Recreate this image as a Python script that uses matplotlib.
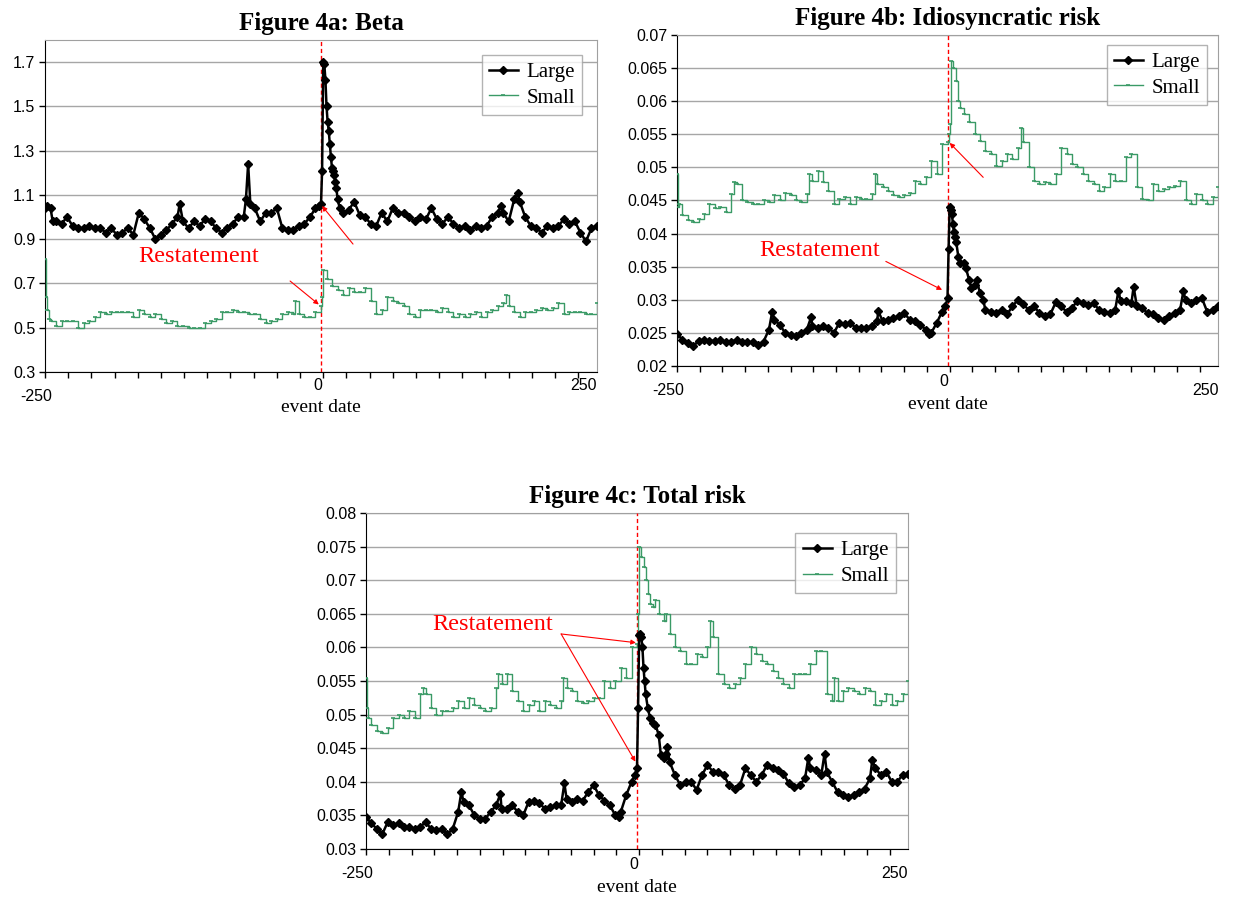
import matplotlib
matplotlib.use("Agg")
import matplotlib.pyplot as plt
import numpy as np

# ---------------- Data ----------------
# Figure 4a: Beta
beta_large_x = [-250,-248,-245,-243,-240,-235,-230,-225,-220,-215,-210,-205,-200,-195,-190,-185,-180,-175,-170,-165,-160,-155,-150,-145,-140,-135,-130,-128,-125,-120,-115,-110,-105,-100,-95,-90,-85,-80,-75,-70,-68,-66,-64,-60,-55,-50,-45,-40,-35,-30,-25,-20,-15,-10,-5,-2,0,1,2,3,4,5,6,7,8,9,10,11,12,13,14,15,17,20,25,30,35,40,45,50,55,60,65,70,75,80,85,90,95,100,105,110,115,120,125,130,135,140,145,150,155,160,163,165,170,175,178,180,185,190,195,200,205,210,215,220,225,230,235,240,245,250]
beta_large_y = [1.04,1.05,1.04,0.98,0.98,0.97,1.00,0.96,0.95,0.95,0.96,0.95,0.95,0.93,0.95,0.92,0.93,0.95,0.92,1.02,0.99,0.95,0.90,0.92,0.94,0.97,1.00,1.06,0.98,0.95,0.98,0.96,0.99,0.98,0.95,0.93,0.95,0.97,1.00,1.00,1.08,1.24,1.06,1.04,0.98,1.02,1.02,1.04,0.95,0.94,0.94,0.96,0.97,1.00,1.04,1.05,1.06,1.21,1.70,1.69,1.62,1.50,1.43,1.39,1.33,1.27,1.22,1.21,1.19,1.16,1.13,1.08,1.04,1.02,1.03,1.07,1.01,1.00,0.97,0.96,1.02,0.98,1.04,1.02,1.02,1.00,0.98,1.00,0.99,1.04,0.99,0.97,1.00,0.97,0.95,0.96,0.94,0.96,0.95,0.96,1.00,1.02,1.05,1.02,0.98,1.08,1.11,1.07,1.00,0.96,0.95,0.93,0.96,0.95,0.96,0.99,0.97,0.98,0.93,0.89,0.95,0.96]

beta_small_x = [-250,-249,-248,-246,-245,-240,-235,-230,-225,-220,-215,-210,-205,-200,-195,-190,-185,-180,-175,-170,-165,-160,-155,-150,-145,-140,-135,-130,-125,-120,-115,-110,-105,-100,-95,-90,-85,-80,-75,-70,-65,-60,-55,-50,-45,-40,-35,-30,-25,-24,-20,-15,-10,-5,0,1,2,5,10,15,20,25,30,35,40,45,50,55,60,65,70,75,80,85,90,95,100,105,110,115,120,125,130,135,140,145,150,155,160,165,168,170,175,180,185,190,195,200,205,210,215,220,225,230,235,240,245,250]
beta_small_y = [0.81,0.64,0.58,0.54,0.53,0.51,0.53,0.53,0.53,0.50,0.52,0.53,0.55,0.57,0.56,0.57,0.57,0.57,0.57,0.55,0.58,0.56,0.55,0.56,0.54,0.52,0.53,0.51,0.51,0.50,0.50,0.50,0.52,0.53,0.54,0.57,0.57,0.58,0.57,0.57,0.56,0.56,0.54,0.52,0.53,0.54,0.56,0.57,0.56,0.62,0.56,0.55,0.55,0.57,0.60,0.64,0.76,0.72,0.69,0.67,0.65,0.68,0.66,0.66,0.68,0.62,0.56,0.58,0.64,0.62,0.61,0.60,0.56,0.55,0.58,0.58,0.58,0.57,0.59,0.57,0.55,0.56,0.55,0.56,0.57,0.55,0.57,0.58,0.60,0.61,0.65,0.60,0.57,0.55,0.57,0.57,0.58,0.59,0.58,0.59,0.61,0.56,0.57,0.57,0.57,0.56,0.56,0.61]

# Figure 4b: Idiosyncratic risk
idio_large_x = [-250,-245,-240,-235,-230,-225,-220,-215,-210,-205,-200,-195,-190,-185,-180,-175,-170,-165,-162,-160,-155,-150,-145,-140,-135,-130,-126,-125,-120,-115,-110,-105,-100,-95,-90,-85,-80,-75,-70,-65,-64,-60,-55,-50,-45,-40,-35,-30,-25,-20,-17,-15,-10,-5,-2,0,1,2,3,4,5,6,7,8,10,12,15,17,20,22,25,27,30,33,35,40,45,50,55,60,65,70,75,80,85,90,95,100,105,110,115,120,125,130,135,140,145,150,155,158,160,165,170,172,175,180,185,190,195,200,205,210,215,218,220,225,230,235,240,245,250]
idio_large_y = [0.0248,0.0240,0.0235,0.0230,0.0238,0.0240,0.0238,0.0238,0.0239,0.0237,0.0236,0.0240,0.0236,0.0236,0.0236,0.0232,0.0237,0.0255,0.0282,0.0270,0.0262,0.0250,0.0247,0.0245,0.0250,0.0255,0.0274,0.0260,0.0258,0.0260,0.0258,0.0250,0.0265,0.0263,0.0265,0.0258,0.0258,0.0258,0.0260,0.0268,0.0283,0.0268,0.0270,0.0272,0.0275,0.0280,0.0270,0.0268,0.0262,0.0255,0.0248,0.0250,0.0265,0.0282,0.0290,0.0302,0.0376,0.0440,0.0436,0.0430,0.0415,0.0402,0.0395,0.0388,0.0365,0.0355,0.0355,0.0348,0.0330,0.0318,0.0323,0.0330,0.0310,0.0300,0.0285,0.0282,0.0280,0.0285,0.0278,0.0290,0.0300,0.0293,0.0285,0.0290,0.0280,0.0276,0.0278,0.0296,0.0290,0.0282,0.0288,0.0298,0.0295,0.0292,0.0295,0.0285,0.0282,0.0280,0.0285,0.0314,0.0298,0.0298,0.0295,0.0320,0.0290,0.0287,0.0280,0.0278,0.0272,0.0270,0.0275,0.0280,0.0285,0.0313,0.0300,0.0295,0.0300,0.0303,0.0282,0.0285,0.0290]

idio_small_x = [-250,-249,-248,-245,-240,-235,-230,-225,-220,-215,-210,-205,-200,-197,-195,-190,-185,-180,-175,-170,-165,-160,-155,-150,-145,-140,-135,-130,-128,-125,-120,-115,-110,-105,-100,-95,-90,-85,-80,-75,-70,-67,-65,-60,-55,-50,-45,-40,-35,-30,-25,-20,-15,-10,-5,0,1,2,3,5,8,10,12,15,20,25,30,35,40,45,50,55,60,65,68,70,75,80,85,90,95,100,105,110,115,120,125,130,135,140,145,150,155,160,165,170,175,180,185,190,195,200,205,210,215,220,225,230,235,240,245,250]
idio_small_y = [0.0490,0.0440,0.0445,0.0428,0.0420,0.0418,0.0422,0.0430,0.0445,0.0438,0.0440,0.0432,0.0460,0.0478,0.0475,0.0450,0.0448,0.0445,0.0445,0.0450,0.0448,0.0458,0.0450,0.0462,0.0458,0.0450,0.0447,0.0460,0.0490,0.0480,0.0495,0.0478,0.0465,0.0445,0.0452,0.0455,0.0445,0.0455,0.0452,0.0452,0.0460,0.0490,0.0475,0.0470,0.0465,0.0458,0.0455,0.0458,0.0462,0.0480,0.0475,0.0485,0.0510,0.0490,0.0535,0.0538,0.0550,0.0565,0.0660,0.0650,0.0630,0.0600,0.0590,0.0580,0.0568,0.0550,0.0540,0.0525,0.0520,0.0502,0.0510,0.0520,0.0512,0.0530,0.0560,0.0538,0.0500,0.0480,0.0475,0.0478,0.0475,0.0490,0.0530,0.0520,0.0505,0.0500,0.0490,0.0480,0.0475,0.0465,0.0470,0.0490,0.0480,0.0480,0.0515,0.0520,0.0470,0.0452,0.0450,0.0475,0.0465,0.0468,0.0470,0.0472,0.0480,0.0450,0.0445,0.0460,0.0450,0.0445,0.0455,0.0470]

# Figure 4c: Total risk
tot_large_x = [-250,-245,-240,-235,-230,-225,-220,-215,-210,-205,-200,-195,-190,-185,-180,-175,-170,-165,-162,-160,-155,-150,-145,-140,-135,-130,-126,-125,-120,-115,-110,-105,-100,-95,-90,-85,-80,-75,-70,-67,-65,-60,-55,-50,-45,-40,-35,-30,-25,-20,-17,-15,-10,-5,-2,0,1,2,3,4,5,6,7,8,10,12,15,17,20,22,25,27,28,30,35,40,45,50,55,60,65,70,75,80,85,90,95,100,105,110,115,120,125,130,135,140,145,150,155,158,160,165,170,173,175,180,185,190,195,200,205,210,215,217,220,225,230,235,240,245,250]
tot_large_y = [0.0348,0.0338,0.0330,0.0322,0.0340,0.0335,0.0338,0.0333,0.0332,0.0330,0.0333,0.0340,0.0330,0.0328,0.0330,0.0322,0.0330,0.0355,0.0385,0.0370,0.0365,0.0350,0.0345,0.0345,0.0355,0.0365,0.0382,0.0360,0.0360,0.0365,0.0355,0.0350,0.0370,0.0372,0.0368,0.0360,0.0362,0.0365,0.0365,0.0398,0.0375,0.0370,0.0375,0.0372,0.0385,0.0395,0.0380,0.0372,0.0365,0.0350,0.0347,0.0355,0.0380,0.0400,0.0410,0.0420,0.0510,0.0618,0.0620,0.0615,0.0600,0.0570,0.0550,0.0530,0.0510,0.0495,0.0487,0.0485,0.0470,0.0440,0.0435,0.0442,0.0452,0.0430,0.0410,0.0395,0.0400,0.0400,0.0388,0.0410,0.0425,0.0415,0.0415,0.0410,0.0395,0.0390,0.0395,0.0420,0.0410,0.0400,0.0410,0.0425,0.0420,0.0418,0.0412,0.0398,0.0392,0.0395,0.0405,0.0435,0.0420,0.0418,0.0410,0.0442,0.0415,0.0400,0.0385,0.0380,0.0378,0.0380,0.0385,0.0390,0.0405,0.0432,0.0420,0.0410,0.0415,0.0400,0.0400,0.0410,0.0412]

tot_small_x = [-250,-249,-248,-245,-240,-235,-230,-225,-220,-215,-210,-205,-200,-197,-195,-190,-185,-180,-175,-170,-165,-160,-155,-150,-145,-140,-135,-130,-128,-125,-120,-115,-110,-105,-100,-95,-90,-85,-80,-75,-70,-68,-65,-60,-55,-50,-45,-40,-35,-30,-25,-20,-15,-10,-5,0,1,2,4,6,8,10,12,15,17,20,25,27,30,35,40,45,50,55,60,65,67,70,75,80,85,90,95,100,105,110,115,120,125,130,135,140,145,150,155,160,165,170,175,180,182,185,190,195,200,205,210,215,220,225,230,235,240,245,250]
tot_small_y = [0.0555,0.0510,0.0495,0.0485,0.0475,0.0472,0.0480,0.0495,0.0500,0.0495,0.0505,0.0495,0.0530,0.0540,0.0530,0.0510,0.0500,0.0505,0.0505,0.0510,0.0520,0.0510,0.0525,0.0515,0.0510,0.0505,0.0510,0.0540,0.0560,0.0545,0.0560,0.0535,0.0520,0.0505,0.0515,0.0520,0.0505,0.0520,0.0515,0.0510,0.0520,0.0555,0.0540,0.0535,0.0520,0.0518,0.0520,0.0525,0.0525,0.0550,0.0540,0.0550,0.0570,0.0555,0.0600,0.0605,0.0650,0.0750,0.0735,0.0720,0.0700,0.0680,0.0665,0.0660,0.0670,0.0650,0.0640,0.0650,0.0620,0.0600,0.0595,0.0575,0.0575,0.0590,0.0585,0.0600,0.0640,0.0615,0.0560,0.0545,0.0540,0.0545,0.0555,0.0575,0.0600,0.0590,0.0580,0.0575,0.0565,0.0555,0.0545,0.0540,0.0560,0.0560,0.0560,0.0575,0.0595,0.0595,0.0530,0.0520,0.0555,0.0520,0.0535,0.0540,0.0535,0.0530,0.0540,0.0535,0.0515,0.0520,0.0530,0.0515,0.0520,0.0530,0.0550]

titles = ["Figure 4a: Beta", "Figure 4b: Idiosyncratic risk", "Figure 4c: Total risk"]
xlabel_text = "event date"
annot_text = "Restatement"
series_names = ["Large", "Small"]
xtick_labels = ["-250", "0", "250"]

# ---------------- Style ----------------
W, H = 1236, 897
fig = plt.figure(figsize=(W / 100, H / 100), dpi=100)
fig.patch.set_facecolor("white")

SERIF = ["Liberation Serif", "DejaVu Serif"]
SANS = ["Liberation Sans", "DejaVu Sans"]
GREEN = "#3a9a66"
GRID = "#a6a6a6"

def px_axes(l, t, r, b):
    return [l / W, 1 - b / H, (r - l) / W, (b - t) / H]

panels = [
    dict(rect=px_axes(45, 40, 597, 372), ylim=(0.3, 1.8), yticks=[0.3, 0.5, 0.7, 0.9, 1.1, 1.3, 1.5, 1.7],
         fmt=lambda v: f"{v:.1f}", large=(beta_large_x, beta_large_y), small=(beta_small_x, beta_small_y),
         leg=(0.973, 0.955), txt=(-111, 0.82),
         arrows=[((-28, 0.711), (-2, 0.605)), ((29, 0.878), (1, 1.05))]),
    dict(rect=px_axes(677, 35, 1218, 366), ylim=(0.02, 0.07), yticks=[0.02 + 0.005 * i for i in range(11)],
         fmt=lambda v: f"{v:.3f}".rstrip("0").rstrip("."), large=(idio_large_x, idio_large_y), small=(idio_small_x, idio_small_y),
         leg=(0.98, 0.97), txt=(-118, 0.0375),
         arrows=[((-57, 0.0358), (-5, 0.0315)), ((33, 0.0485), (2, 0.0537))]),
    dict(rect=px_axes(366, 513, 908, 849), ylim=(0.03, 0.08), yticks=[0.03 + 0.005 * i for i in range(11)],
         fmt=lambda v: f"{v:.3f}".rstrip("0").rstrip("."), large=(tot_large_x, tot_large_y), small=(tot_small_x, tot_small_y),
         leg=(0.978, 0.94), txt=(-133, 0.0634),
         arrows=[((-70, 0.0620), (-1, 0.0607)), ((-70, 0.0620), (-1.5, 0.0430))]),
]

for i, p in enumerate(panels):
    ax = fig.add_axes(p["rect"])
    ax.set_xlim(-250, 250)
    ax.set_ylim(*p["ylim"])
    ax.set_yticks(p["yticks"])
    ax.set_yticklabels([p["fmt"](v) for v in p["yticks"]], fontfamily=SANS, fontsize=11.5)
    ax.yaxis.grid(True, color=GRID, lw=1.0)
    ax.set_axisbelow(True)
    ax.tick_params(axis="y", direction="out", length=4, width=1, pad=3)
    # tick marks on x axis every 21 days, labels drawn separately
    ax.set_xticks(np.arange(-250, 251, 21))
    ax.set_xticklabels([])
    ax.tick_params(axis="x", direction="out", length=4, width=1)
    for s in ("top", "right"):
        ax.spines[s].set_color("#a0a0a0")
    for s in ("left", "bottom"):
        ax.spines[s].set_color("black")
    # x tick labels (Excel-like staggered)
    tr = ax.get_xaxis_transform()
    ax.text(-258, -0.05, xtick_labels[0], transform=tr, ha="center", va="top", fontsize=11.5, fontfamily=SANS)
    ax.text(-3, -0.018 if i == 0 else -0.025, xtick_labels[1], transform=tr, ha="center", va="top", fontsize=11.5, fontfamily=SANS)
    ax.text(238, -0.018 if i == 0 else -0.05, xtick_labels[2], transform=tr, ha="center", va="top", fontsize=11.5, fontfamily=SANS)
    ax.text(0, -0.08 if i == 0 else -0.09, xlabel_text, transform=tr, ha="center", va="top", fontsize=14, fontfamily=SERIF)

    ax.set_title(titles[i], fontfamily=SERIF, fontweight="bold", fontsize=18, pad=7)

    # event line
    ax.axvline(0, color="red", lw=1, ls=(0, (3, 2)), zorder=3)

    lx, ly = p["large"]
    sx, sy = p["small"]
    ax.plot(sx, sy, color=GREEN, lw=1.0, marker="_", ms=3.5, mew=1.2, drawstyle="steps-post", zorder=4, label=series_names[1])
    ax.plot(lx, ly, color="black", lw=1.8, marker="D", ms=3.8, zorder=5, label=series_names[0])

    h, l = ax.get_legend_handles_labels()
    leg = ax.legend([h[1], h[0]], [l[1], l[0]], loc="upper right", bbox_to_anchor=p["leg"], borderaxespad=0,
                    prop=dict(family=SERIF, size=15), frameon=True, fancybox=False, handlelength=1.4,
                    handletextpad=0.4, borderpad=0.35, labelspacing=0.3)
    leg.get_frame().set_edgecolor("#a0a0a0")
    leg.get_frame().set_linewidth(1)
    leg.set_zorder(10)

    ax.text(p["txt"][0], p["txt"][1], annot_text, color="red", fontfamily=SERIF, fontsize=17.5, ha="center", va="center", zorder=6)
    for (t, hd) in p["arrows"]:
        ax.annotate("", xy=hd, xytext=t, arrowprops=dict(arrowstyle="-|>", color="red", lw=0.8,
                                                         mutation_scale=7, shrinkA=0, shrinkB=0), zorder=6)

fig.savefig("out.png", dpi=100, facecolor="white")
